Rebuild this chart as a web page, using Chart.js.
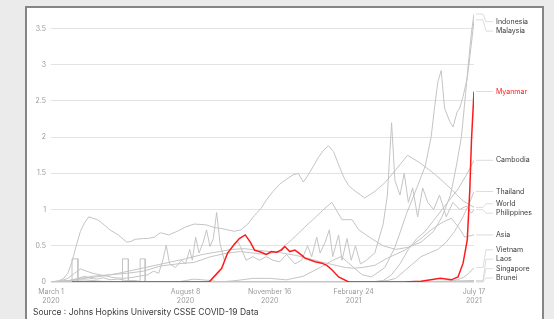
<!DOCTYPE html>
<html>
<head>
<meta charset="utf-8">
<script src="https://cdn.jsdelivr.net/npm/chart.js@4"></script>
<style>
  html, body { margin: 0; padding: 0; background: #ebebeb; width: 554px; height: 319px; overflow: hidden; font-family: Inter, "Noto Sans", sans-serif; }
  #card { position: absolute; left: 25px; top: 6px; width: 515px; height: 340px; background: #fff; border: 2px solid #858585; border-bottom: none; }
  #wrap { position: absolute; left: 0; top: 0; width: 554px; height: 319px; }
  #src { position: absolute; left: 33px; top: 307px; font-size: 8.5px; color: #3a3a3a; font-family: Inter, sans-serif; }
</style>
</head>
<body>
<div id="card"></div>
<div id="wrap"><canvas id="c" width="554" height="319"></canvas></div>
<div id="src">Source : Johns Hopkins University CSSE COVID-19 Data</div>
<script>
// ---- axis ticks ----
const tickDays = [0, 160, 260, 360, 503];
const tickLabels = [["March 1", "2020"], ["August 8", "2020"], ["November 16", "2020"], ["February 24", "2021"], ["July 17", "2021"]];
const yTickValues = [0, 0.5, 1, 1.5, 2, 2.5, 3, 3.5];

// ---- series (days since March 1 2020, deaths per million) ----
const seriesNames = ["Myanmar", "Indonesia", "Malaysia", "Cambodia", "Thailand", "World", "Philippines", "Asia", "Vietnam", "Laos", "Singapore", "Brunei"];

const myanmarDays = [25, 188, 192, 203, 210, 218, 224, 231, 237, 242, 250, 256, 262, 268, 274, 278, 284, 290, 298, 302, 314, 322, 328, 334, 342, 354, 420, 440, 463, 476, 484, 490, 495, 498, 500, 503];
const myanmarValues = [0, 0, 0.05, 0.19, 0.4, 0.52, 0.6, 0.65, 0.55, 0.44, 0.41, 0.38, 0.42, 0.41, 0.44, 0.49, 0.42, 0.44, 0.37, 0.33, 0.28, 0.26, 0.23, 0.17, 0.07, 0, 0, 0.01, 0.05, 0.03, 0.07, 0.26, 0.58, 1.27, 1.96, 2.63];

const indonesiaDays = [0, 20, 35, 50, 70, 90, 110, 130, 150, 170, 190, 210, 225, 240, 255, 270, 286, 302, 315, 324, 334, 346, 358, 366, 381, 395, 410, 425, 440, 455, 465, 475, 482, 488, 493, 497, 500, 503];
const indonesiaValues = [0, 0.01, 0.05, 0.08, 0.1, 0.12, 0.15, 0.22, 0.25, 0.27, 0.35, 0.4, 0.42, 0.4, 0.38, 0.42, 0.58, 0.76, 0.9, 1.0, 1.1, 0.86, 0.86, 0.72, 0.6, 0.5, 0.45, 0.48, 0.55, 0.7, 0.9, 1.2, 1.6, 2.0, 2.6, 3.1, 3.45, 3.7];

const malaysiaDays = [0, 20, 40, 60, 100, 200, 220, 240, 260, 280, 300, 320, 335, 345, 360, 370, 381, 397, 409, 423, 435, 445, 452, 456, 460, 464, 468, 474, 478, 483, 486, 490, 495, 498, 500, 503];
const malaysiaValues = [0, 0.02, 0.03, 0.01, 0, 0, 0.02, 0.05, 0.05, 0.03, 0.08, 0.2, 0.3, 0.35, 0.2, 0.1, 0.07, 0.2, 0.48, 0.95, 1.3, 1.6, 2.0, 2.4, 2.76, 2.92, 2.4, 2.22, 2.14, 2.35, 2.4, 2.56, 2.82, 3.1, 3.3, 3.62];

const cambodiaDays = [0, 380, 395, 405, 415, 425, 435, 445, 455, 465, 475, 485, 495, 503];
const cambodiaValues = [0, 0, 0.02, 0.1, 0.25, 0.45, 0.6, 0.7, 0.85, 1.0, 1.15, 1.3, 1.5, 1.68];

const thailandDays = [0, 20, 40, 60, 380, 400, 410, 420, 430, 440, 450, 460, 470, 480, 490, 498, 503];
const thailandValues = [0, 0.005, 0.01, 0.002, 0, 0.02, 0.05, 0.15, 0.25, 0.35, 0.4, 0.45, 0.55, 0.7, 0.9, 1.1, 1.25];

const worldDays = [0, 10, 15, 20, 25, 30, 35, 40, 45, 50, 55, 60, 70, 80, 90, 95, 100, 110, 115, 123, 130, 140, 150, 160, 170, 184, 195, 202, 210, 218, 226, 234, 242, 250, 256, 264, 272, 280, 288, 294, 300, 306, 312, 318, 324, 330, 336, 342, 348, 354, 360, 373, 385, 397, 410, 424, 438, 453, 465, 477, 490, 503];
const worldValues = [0, 0.02, 0.05, 0.12, 0.28, 0.5, 0.7, 0.82, 0.9, 0.88, 0.86, 0.82, 0.72, 0.65, 0.55, 0.56, 0.59, 0.6, 0.6, 0.62, 0.68, 0.65, 0.7, 0.76, 0.8, 0.79, 0.75, 0.74, 0.72, 0.7, 0.72, 0.8, 0.92, 1.02, 1.13, 1.25, 1.35, 1.42, 1.48, 1.5, 1.38, 1.48, 1.6, 1.72, 1.82, 1.88, 1.8, 1.62, 1.45, 1.33, 1.27, 1.16, 1.25, 1.37, 1.55, 1.75, 1.65, 1.52, 1.4, 1.27, 1.12, 1.03];

const philippinesDays = [0, 10, 20, 28, 35, 42, 50, 58, 66, 75, 85, 95, 105, 115, 122, 128, 133, 137, 141, 148, 155, 160, 165, 168, 172, 176, 181, 185, 189, 193, 197, 201, 206, 212, 222, 226, 232, 240, 248, 256, 264, 272, 280, 290, 298, 305, 310, 316, 320, 326, 331, 335, 342, 346, 352, 357, 362, 368, 375, 385, 395, 400, 405, 409, 415, 420, 425, 430, 436, 442, 448, 455, 462, 470, 478, 486, 494, 500, 503];
const philippinesValues = [0, 0.01, 0.05, 0.12, 0.18, 0.15, 0.12, 0.1, 0.08, 0.06, 0.05, 0.06, 0.08, 0.1, 0.15, 0.12, 0.3, 0.51, 0.25, 0.2, 0.3, 0.25, 0.45, 0.3, 0.62, 0.4, 0.55, 0.72, 0.49, 0.6, 0.96, 0.53, 0.3, 0.44, 0.56, 0.47, 0.3, 0.35, 0.3, 0.35, 0.3, 0.28, 0.38, 0.25, 0.3, 0.5, 0.35, 0.62, 0.4, 0.55, 0.72, 0.35, 0.65, 0.3, 0.6, 0.3, 0.5, 0.25, 0.3, 0.4, 0.8, 1.2, 2.2, 1.4, 1.2, 1.5, 1.1, 1.3, 0.9, 1.3, 1.1, 1.0, 1.2, 0.9, 1.1, 1.0, 1.05, 0.95, 1.0];

const asiaDays = [0, 20, 40, 60, 80, 100, 120, 140, 160, 180, 200, 215, 230, 245, 260, 275, 290, 305, 320, 335, 350, 360, 370, 385, 400, 421, 440, 452, 465, 476, 485, 492, 503];
const asiaValues = [0, 0.02, 0.05, 0.08, 0.12, 0.17, 0.22, 0.27, 0.32, 0.38, 0.42, 0.45, 0.46, 0.44, 0.42, 0.4, 0.37, 0.33, 0.28, 0.24, 0.2, 0.19, 0.2, 0.23, 0.33, 0.44, 0.6, 0.72, 0.82, 0.88, 0.75, 0.62, 0.65];

const vietnamDays = [0, 150, 160, 170, 180, 190, 200, 460, 480, 490, 497, 503];
const vietnamValues = [0, 0, 0.02, 0.04, 0.03, 0.02, 0, 0, 0.02, 0.06, 0.12, 0.2];

const laosDays = [0, 440, 503];
const laosValues = [0, 0, 0.02];

const singaporeDays = [0, 18, 25, 32, 40, 47, 55, 62, 70, 80, 90, 100, 110, 130, 503];
const singaporeValues = [0, 0, 0.03, 0.05, 0.08, 0.05, 0.04, 0.06, 0.03, 0.04, 0.02, 0.02, 0, 0, 0.01];

const bruneiDays = [0, 25, 25, 32, 32, 85, 85, 92, 92, 106, 106, 112, 112, 503];
const bruneiValues = [0, 0, 0.32, 0.32, 0, 0, 0.32, 0.32, 0, 0, 0.32, 0.32, 0, 0];

// ---- build ----
const seriesData = {
  Myanmar: [myanmarDays, myanmarValues],
  Indonesia: [indonesiaDays, indonesiaValues],
  Malaysia: [malaysiaDays, malaysiaValues],
  Cambodia: [cambodiaDays, cambodiaValues],
  Thailand: [thailandDays, thailandValues],
  World: [worldDays, worldValues],
  Philippines: [philippinesDays, philippinesValues],
  Asia: [asiaDays, asiaValues],
  Vietnam: [vietnamDays, vietnamValues],
  Laos: [laosDays, laosValues],
  Singapore: [singaporeDays, singaporeValues],
  Brunei: [bruneiDays, bruneiValues]
};
const RED = '#ff1a1a';
const GREY = '#c4c4c4';
const datasets = seriesNames.map(name => {
  const [d, v] = seriesData[name];
  const isRed = name === 'Myanmar';
  return {
    label: name,
    data: d.map((x, i) => ({ x: x, y: v[i] })),
    borderColor: isRed ? RED : GREY,
    borderWidth: isRed ? 1.5 : 1,
    pointRadius: 0,
    tension: 0,
    fill: false,
    order: isRed ? 0 : 1
  };
});

const endLabels = {
  id: 'endLabels',
  afterDatasetsDraw(chart) {
    const ctx = chart.ctx;
    const items = [];
    chart.data.datasets.forEach((ds, i) => {
      const meta = chart.getDatasetMeta(i);
      const pt = meta.data[meta.data.length - 1];
      items.push({ name: ds.label, x: pt.x, y: pt.y, ly: pt.y, red: ds.borderColor === RED, idx: i });
    });
    items.sort((a, b) => a.y - b.y || a.idx - b.idx);
    const gap = 9.4, top = 21.7, bottom = 278;
    for (let it = 0; it < 400; it++) {
      for (let i = 1; i < items.length; i++) {
        const d = items[i].ly - items[i - 1].ly;
        if (d < gap) { const s = (gap - d) / 2; items[i - 1].ly -= s; items[i].ly += s; }
      }
      items.forEach(o => { o.ly = Math.max(top, Math.min(bottom, o.ly)); });
    }
    const labelX = 496;
    ctx.save();
    ctx.lineWidth = 0.8;
    ctx.font = '7px Inter, "Noto Sans", sans-serif';
    ctx.textBaseline = 'middle';
    items.forEach(o => {
      ctx.strokeStyle = '#d4d4d4';
      ctx.beginPath();
      ctx.moveTo(o.x + 2, o.y);
      ctx.lineTo(o.x + 9, o.y);
      ctx.lineTo(o.x + 12, o.ly);
      ctx.lineTo(labelX - 3, o.ly);
      ctx.stroke();
      ctx.fillStyle = o.red ? RED : '#3c3c3c';
      ctx.fillText(o.name, labelX, o.ly);
    });
    ctx.restore();
  }
};

new Chart(document.getElementById('c'), {
  type: 'line',
  data: { datasets: datasets },
  options: {
    responsive: false,
    animation: false,
    events: [],
    layout: { padding: { left: 0, right: 80, top: 10.4, bottom: 0 } },
    plugins: { legend: { display: false }, tooltip: { enabled: false } },
    scales: {
      x: {
        type: 'linear',
        min: 0,
        max: 503,
        border: { display: false },
        grid: { display: false, drawTicks: false },
        afterBuildTicks: s => { s.ticks = tickDays.map(v => ({ value: v })); },
        afterFit: s => { s.height = 37; },
        ticks: {
          autoSkip: false,
          maxRotation: 0,
          padding: 6,
          color: '#9a9a9a',
          font: { family: 'Inter', size: 7, lineHeight: 1.2 },
          callback: (v) => { const i = tickDays.indexOf(v); return i >= 0 ? tickLabels[i] : ''; }
        }
      },
      y: {
        min: 0,
        max: 3.75,
        border: { display: false },
        afterBuildTicks: s => { s.ticks = yTickValues.map(v => ({ value: v })); },
        afterFit: s => { s.width = 51; },
        grid: { color: '#dcdcdc', lineWidth: 0.8, drawTicks: false, borderDash: [1, 2], tickBorderDash: [1, 2] },
        ticks: {
          padding: 5,
          color: '#9a9a9a',
          font: { family: 'Inter', size: 7 },
          callback: v => String(v)
        }
      }
    }
  },
  plugins: [endLabels]
});
</script>
</body>
</html>
